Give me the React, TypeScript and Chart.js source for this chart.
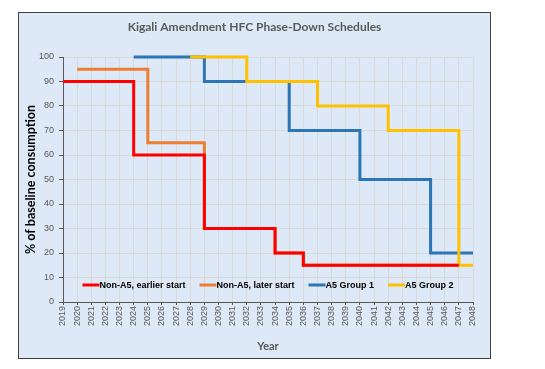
import React, { useEffect, useRef } from "react";
import { Chart, registerables } from "chart.js";

Chart.register(...registerables);

const chartTitle = "Kigali Amendment HFC Phase-Down Schedules";
const xAxisTitle = "Year";
const yAxisTitle = "% of baseline consumption";

const seriesNames = ["Non-A5, earlier start", "Non-A5, later start", "A5 Group 1", "A5 Group 2"];
const seriesColors = ["#ff0000", "#ed7d31", "#2e75b6", "#ffc000"];

const earlyYears = [2019, 2024, 2029, 2034, 2036, 2047];
const earlyValues = [90, 60, 30, 20, 15, 15];
const laterYears = [2020, 2025, 2029, 2034, 2036, 2047];
const laterValues = [95, 65, 30, 20, 15, 15];
const group1Years = [2024, 2029, 2035, 2040, 2045, 2048];
const group1Values = [100, 90, 70, 50, 20, 20];
const group2Years = [2028, 2032, 2037, 2042, 2047, 2048];
const group2Values = [100, 90, 80, 70, 15, 15];

const yearMin = 2019;
const yearMax = 2048;
const yMin = 0;
const yMax = 100;
const yStep = 10;

const toPoints = (xs: number[], ys: number[]) => xs.map((x, i) => ({ x, y: ys[i] }));

const titlePlugin = {
  id: "centerTitle",
  afterDraw(chart: any) {
    const ctx = chart.ctx;
    ctx.save();
    ctx.font = "bold 12px Lato, 'Open Sans', sans-serif";
    ctx.fillStyle = "#595959";
    ctx.textAlign = "center";
    ctx.textBaseline = "middle";
    ctx.fillText(chartTitle, chart.width / 2, 14);
    ctx.restore();
  },
};

const legendPlugin = {
  id: "insideLegend",
  afterDraw(chart: any) {
    const ctx = chart.ctx;
    const area = chart.chartArea;
    ctx.save();
    ctx.font = "bold 9px 'Liberation Sans', Arial, sans-serif";
    const lineLen = 17;
    const gap = 14;
    const items = seriesNames.map((label, i) => ({
      label,
      color: seriesColors[i],
      w: lineLen + ctx.measureText(label).width,
    }));
    const total = items.reduce((s, it) => s + it.w, 0) + gap * (items.length - 1);
    let x = (area.left + area.right) / 2 - total / 2;
    const y = area.bottom - 17;
    items.forEach((it) => {
      ctx.strokeStyle = it.color;
      ctx.lineWidth = 3;
      ctx.lineCap = "butt";
      ctx.beginPath();
      ctx.moveTo(x, y);
      ctx.lineTo(x + lineLen, y);
      ctx.stroke();
      ctx.fillStyle = "#000000";
      ctx.textAlign = "left";
      ctx.textBaseline = "middle";
      ctx.fillText(it.label, x + lineLen, y + 0.5);
      x += it.w + gap;
    });
    ctx.restore();
  },
};

export default function App() {
  const canvasRef = useRef<HTMLCanvasElement | null>(null);

  useEffect(() => {
    if (!canvasRef.current) return;
    const tickFont = { family: "'Liberation Sans', Arial, sans-serif", size: 9 };
    const mk = (i: number, xs: number[], ys: number[], order: number) => ({
      label: seriesNames[i],
      data: toPoints(xs, ys),
      borderColor: seriesColors[i],
      backgroundColor: seriesColors[i],
      borderWidth: 3,
      pointRadius: 0,
      pointHoverRadius: 0,
      stepped: "before" as const,
      fill: false,
      clip: false as const,
      borderJoinStyle: "miter" as const,
      borderCapStyle: "butt" as const,
      order,
    });
    const chart = new Chart(canvasRef.current, {
      type: "line",
      data: {
        datasets: [
          mk(0, earlyYears, earlyValues, 0),
          mk(1, laterYears, laterValues, 2),
          mk(2, group1Years, group1Values, 3),
          mk(3, group2Years, group2Values, 1),
        ],
      },
      options: {
        responsive: false,
        animation: false,
        devicePixelRatio: 1,
        layout: { padding: { left: 0, right: 17, top: 44, bottom: 0 } },
        plugins: {
          legend: { display: false },
          tooltip: { enabled: false },
          title: { display: false },
        },
        scales: {
          x: {
            type: "linear",
            min: yearMin,
            max: yearMax,
            afterFit(scale: any) {
              scale.height = 56;
            },
            ticks: {
              stepSize: 1,
              autoSkip: false,
              minRotation: 90,
              maxRotation: 90,
              callback: (v: any) => String(v),
              color: "#595959",
              font: tickFont,
              padding: 1,
            },
            grid: { color: "#d9d9d9", tickColor: "#595959", tickLength: 3, lineWidth: 1 },
            border: { color: "#595959", width: 1 },
            title: {
              display: true,
              text: xAxisTitle,
              color: "#595959",
              font: { family: "Lato, 'Open Sans', sans-serif", size: 11, weight: "bold" },
              padding: { top: 0, bottom: 5 },
            },
          },
          y: {
            type: "linear",
            min: yMin,
            max: yMax,
            afterFit(scale: any) {
              scale.width = 44;
            },
            ticks: {
              stepSize: yStep,
              color: "#595959",
              font: tickFont,
              padding: 5,
            },
            grid: { color: "#d9d9d9", tickColor: "#595959", tickLength: 4, lineWidth: 1 },
            border: { color: "#595959", width: 1 },
            title: {
              display: true,
              text: yAxisTitle,
              color: "#000000",
              font: { family: "Lato, 'Open Sans', sans-serif", size: 12.5, weight: "bold" },
              padding: { top: 4, bottom: 0 },
            },
          },
        },
      },
      plugins: [titlePlugin, legendPlugin],
    });
    return () => chart.destroy();
  }, []);

  return (
    <div
      style={{
        position: "absolute",
        left: 18,
        top: 12,
        width: 473,
        height: 347,
        boxSizing: "border-box",
        border: "1px solid #404040",
        background: "#dde9f6",
      }}
    >
      <canvas ref={canvasRef} width={471} height={345} style={{ display: "block" }} />
    </div>
  );
}
